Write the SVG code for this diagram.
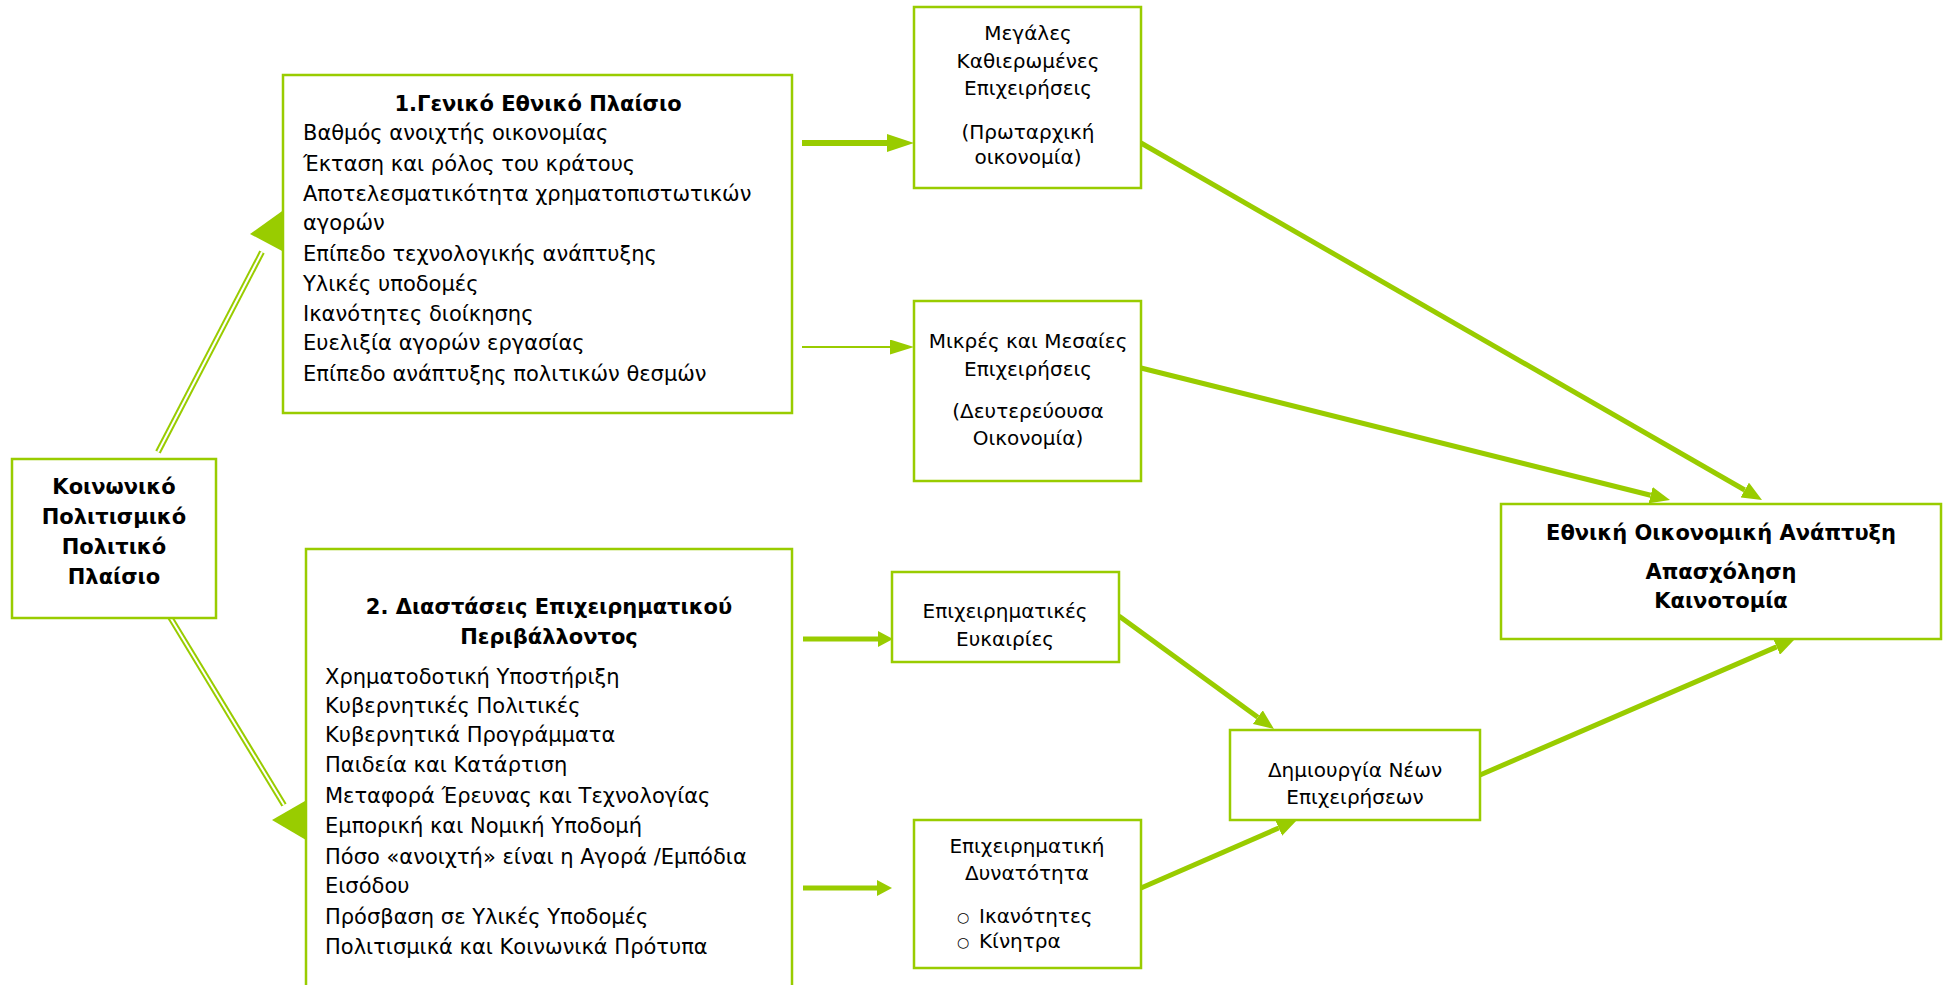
<svg xmlns="http://www.w3.org/2000/svg" width="1946" height="985" viewBox="0 0 1946 985">
<defs>
<style>
.box{fill:#fff;stroke:#99CC00;stroke-width:2.5}
.t{font-family:"DejaVu Sans",Verdana,sans-serif;font-size:21px;fill:#000}
.b{font-family:"DejaVu Sans",Verdana,sans-serif;font-size:21px;font-weight:bold;fill:#000}
.s{font-family:"DejaVu Sans",Verdana,sans-serif;font-size:20px;fill:#000}
.bul{font-family:"DejaVu Sans",Verdana,sans-serif;font-size:14px;fill:#000}
.c{text-anchor:middle}
.ln{stroke:#99CC00;fill:none}
.dbl{stroke:#99CC00;stroke-width:6;fill:none}
.dblw{stroke:#fff;stroke-width:2;fill:none}
.ah{fill:#99CC00}
</style>
<marker id="mA" markerUnits="userSpaceOnUse" markerWidth="27" markerHeight="18" viewBox="0 0 27 18" refX="0" refY="9" orient="auto"><path d="M0,0 L27,9 L0,18 z" fill="#99CC00"/></marker>
<marker id="mB" markerUnits="userSpaceOnUse" markerWidth="24" markerHeight="15" viewBox="0 0 24 15" refX="0" refY="7.5" orient="auto"><path d="M0,0 L24,7.5 L0,15 z" fill="#99CC00"/></marker>
<marker id="mC" markerUnits="userSpaceOnUse" markerWidth="20" markerHeight="17" viewBox="0 0 20 17" refX="0" refY="8.5" orient="auto"><path d="M0,0 L20,8.5 L0,17 z" fill="#99CC00"/></marker>
<marker id="mD" markerUnits="userSpaceOnUse" markerWidth="15" markerHeight="16" viewBox="0 0 15 16" refX="0" refY="8" orient="auto"><path d="M0,0 L15,8 L0,16 z" fill="#99CC00"/></marker>
</defs>
<rect width="1946" height="985" fill="#fff"/>

<g id="connectors">
<line class="dbl" x1="158" y1="452" x2="262" y2="252"/>
<line class="dblw" x1="158" y1="452" x2="262" y2="252"/>
<polygon class="ah" points="250,234 284,252 285,209"/>
<line class="dbl" x1="170" y1="617" x2="284" y2="805"/>
<line class="dblw" x1="170" y1="617" x2="284" y2="805"/>
<polygon class="ah" points="272,820 305,801 306,840"/>
<line class="ln" stroke-width="6" x1="802" y1="143" x2="887" y2="143" marker-end="url(#mA)"/>
<line class="ln" stroke-width="2" x1="802" y1="347" x2="890" y2="347" marker-end="url(#mB)"/>
<line class="ln" stroke-width="5" x1="803" y1="639" x2="878" y2="639" marker-end="url(#mD)"/>
<line class="ln" stroke-width="5" x1="803" y1="888" x2="877" y2="888" marker-end="url(#mD)"/>
<line class="ln" stroke-width="5" x1="1141" y1="143" x2="1744.7" y2="490" marker-end="url(#mC)"/>
<line class="ln" stroke-width="5" x1="1141" y1="368" x2="1650.6" y2="495.2" marker-end="url(#mC)"/>
<line class="ln" stroke-width="5" x1="1119" y1="616" x2="1257.8" y2="717.2" marker-end="url(#mC)"/>
<line class="ln" stroke-width="5" x1="1141" y1="888" x2="1278.7" y2="828" marker-end="url(#mC)"/>
<line class="ln" stroke-width="5" x1="1480" y1="775" x2="1776.6" y2="646.9" marker-end="url(#mC)"/>
</g>

<g id="socio">
<rect class="box" x="12" y="459" width="204" height="159"/>
<text class="b c" x="114" y="494">Κοινωνικό</text>
<text class="b c" x="114" y="524">Πολιτισμικό</text>
<text class="b c" x="114" y="554">Πολιτικό</text>
<text class="b c" x="114" y="584">Πλαίσιο</text>
</g>

<g id="general">
<rect class="box" x="283" y="75" width="509" height="338"/>
<text class="b c" x="538" y="111">1.Γενικό Εθνικό Πλαίσιο</text>
<text class="t" x="303" y="140">Βαθμός ανοιχτής οικονομίας</text>
<text class="t" x="303" y="171">Έκταση και ρόλος του κράτους</text>
<text class="t" x="303" y="201">Αποτελεσματικότητα χρηματοπιστωτικών</text>
<text class="t" x="303" y="230">αγορών</text>
<text class="t" x="303" y="261">Επίπεδο τεχνολογικής ανάπτυξης</text>
<text class="t" x="303" y="291">Υλικές υποδομές</text>
<text class="t" x="303" y="321">Ικανότητες διοίκησης</text>
<text class="t" x="303" y="350">Ευελιξία αγορών εργασίας</text>
<text class="t" x="303" y="381">Επίπεδο ανάπτυξης πολιτικών θεσμών</text>
</g>

<g id="business">
<rect class="box" x="306" y="549" width="486" height="460"/>
<text class="b c" x="549" y="614">2. Διαστάσεις Επιχειρηματικού</text>
<text class="b c" x="549" y="644">Περιβάλλοντος</text>
<text class="t" x="325" y="684">Χρηματοδοτική Υποστήριξη</text>
<text class="t" x="325" y="713">Κυβερνητικές Πολιτικές</text>
<text class="t" x="325" y="742">Κυβερνητικά Προγράμματα</text>
<text class="t" x="325" y="772">Παιδεία και Κατάρτιση</text>
<text class="t" x="325" y="803">Μεταφορά Έρευνας και Τεχνολογίας</text>
<text class="t" x="325" y="833">Εμπορική και Νομική Υποδομή</text>
<text class="t" x="325" y="864">Πόσο «ανοιχτή» είναι η Αγορά /Εμπόδια</text>
<text class="t" x="325" y="893">Εισόδου</text>
<text class="t" x="325" y="924">Πρόσβαση σε Υλικές Υποδομές</text>
<text class="t" x="325" y="954">Πολιτισμικά και Κοινωνικά Πρότυπα</text>
</g>

<g id="large">
<rect class="box" x="914" y="7" width="227" height="181"/>
<text class="s c" x="1028" y="40">Μεγάλες</text>
<text class="s c" x="1028" y="68">Καθιερωμένες</text>
<text class="s c" x="1028" y="95">Επιχειρήσεις</text>
<text class="s c" x="1028" y="139">(Πρωταρχική</text>
<text class="s c" x="1028" y="164">οικονομία)</text>
</g>

<g id="sme">
<rect class="box" x="914" y="301" width="227" height="180"/>
<text class="s c" x="1028" y="348">Μικρές και Μεσαίες</text>
<text class="s c" x="1028" y="376">Επιχειρήσεις</text>
<text class="s c" x="1028" y="418">(Δευτερεύουσα</text>
<text class="s c" x="1028" y="445">Οικονομία)</text>
</g>

<g id="opportunities">
<rect class="box" x="892" y="572" width="227" height="90"/>
<text class="s c" x="1005" y="618">Επιχειρηματικές</text>
<text class="s c" x="1005" y="646">Ευκαιρίες</text>
</g>

<g id="capability">
<rect class="box" x="914" y="820" width="227" height="148"/>
<text class="s c" x="1027" y="853">Επιχειρηματική</text>
<text class="s c" x="1027" y="880">Δυνατότητα</text>
<text class="bul" x="957" y="922">○</text>
<text class="s" x="979" y="923">Ικανότητες</text>
<text class="bul" x="957" y="947">○</text>
<text class="s" x="979" y="948">Κίνητρα</text>
</g>

<g id="newbiz">
<rect class="box" x="1230" y="730" width="250" height="90"/>
<text class="s c" x="1355" y="777">Δημιουργία Νέων</text>
<text class="s c" x="1355" y="804">Επιχειρήσεων</text>
</g>

<g id="national">
<rect class="box" x="1501" y="504" width="440" height="135"/>
<text class="b c" x="1721" y="540">Εθνική Οικονομική Ανάπτυξη</text>
<text class="b c" x="1721" y="579">Απασχόληση</text>
<text class="b c" x="1721" y="608">Καινοτομία</text>
</g>
</svg>
